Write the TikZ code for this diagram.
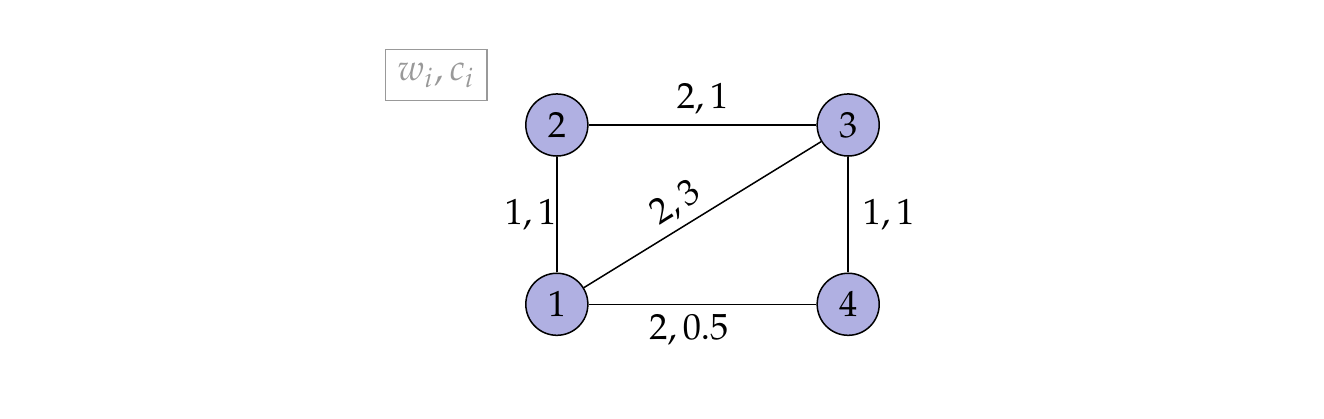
\documentclass[tikz,border=0pt]{standalone}
\usepackage{mathpazo}
\definecolor{vertexfill}{RGB}{176,176,226}
\tikzset{
	every node/.append style={font=\large},
	vertex/.style={circle,draw,line width=0.5pt,fill=vertexfill,minimum size=0.72cm,inner sep=0pt},
	weightkey/.style={draw=black!40,text=black!40,line width=0.5pt,minimum width=1.18cm,minimum height=0.59cm,inner sep=0pt}
}
\begin{document}
\begin{tikzpicture}[line width=0.5pt]
						\useasboundingbox (-6.46,-1.32) rectangle (8.90,3.53);
						\coordinate (P1) at (0,0);
						\coordinate (P2) at (0,2.08);
						\coordinate (P3) at (3.38,2.08);
						\coordinate (P4) at (3.38,0);
						\node[vertex] (v1) at (P1) {$1$};
						\node[vertex] (v2) at (P2) {$2$};
						\node[vertex] (v3) at (P3) {$3$};
						\node[vertex] (v4) at (P4) {$4$};
						\node[weightkey] (key) at (-1.40,2.66) {$w_i, c_i$};% Legend
						\draw (v2) -- node[above] {$2, 1$} (v3);% Top Edge
						\draw (v1) -- node[below,pos=.44] {$2, 0.5$} (v4);% Bottom Edge
						\draw (v1) -- node[left,xshift=3.4pt] {$1, 1$} (v2);% Left Edge
						\draw (v4) -- node[right,xshift=1.3pt] {$1, 1$} (v3);% Right Edge
						\draw (v1) -- node[above,sloped,pos=.44,inner sep=2.5pt] {$2,3$} (v3);% Diagonal
						\end{tikzpicture}
\end{document}
